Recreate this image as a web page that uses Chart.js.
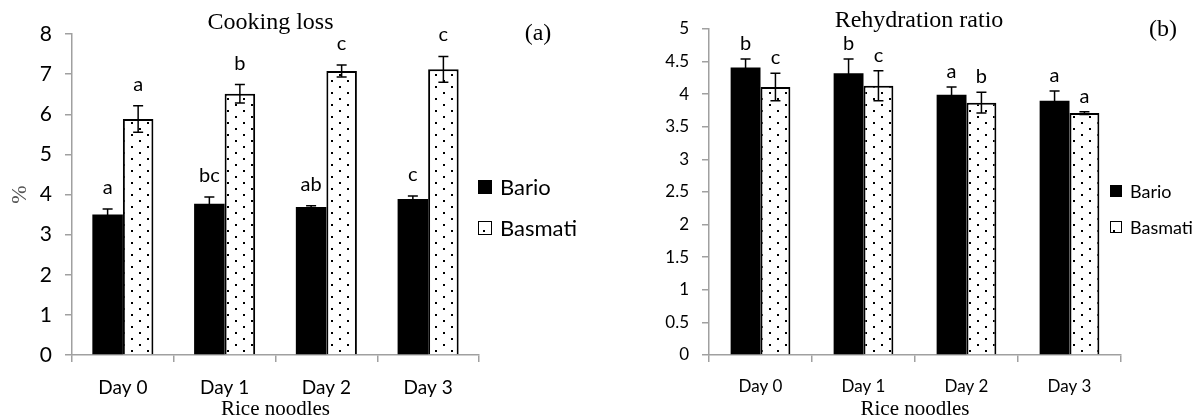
<!DOCTYPE html>
<html>
<head>
<meta charset="utf-8">
<script src="https://cdn.jsdelivr.net/npm/chart.js@4.4.1/dist/chart.umd.min.js"></script>
<style>
  html, body { margin: 0; padding: 0; background: #fff; }
  #wrap { width: 1196px; height: 416px; display: flex; }
  .cell { width: 598px; height: 416px; position: relative; }
</style>
</head>
<body>
<div id="wrap">
  <div class="cell"><canvas id="Chart_loss"></canvas></div>
  <div class="cell"><canvas id="Chart_rehyd"></canvas></div>
</div>
<script>
// data
const days = ['Day 0', 'Day 1', 'Day 2', 'Day 3'];
const seriesNames = ['Bario', 'Basmati'];

const lossBario = [3.50, 3.77, 3.69, 3.89];
const lossBarioErr = [0.14, 0.17, 0.03, 0.07];
const lossBasmati = [5.88, 6.51, 7.08, 7.12];
const lossBasmatiErr = [0.33, 0.23, 0.15, 0.32];
const lossBarioLetters = ['a', 'bc', 'ab', 'c'];
const lossBasmatiLetters = ['a', 'b', 'c', 'c'];

const rehydBario = [4.41, 4.32, 3.99, 3.90];
const rehydBarioErr = [0.13, 0.22, 0.12, 0.15];
const rehydBasmati = [4.11, 4.13, 3.87, 3.71];
const rehydBasmatiErr = [0.21, 0.23, 0.16, 0.02];
const rehydBarioLetters = ['b', 'b', 'a', 'a'];
const rehydBasmatiLetters = ['c', 'c', 'b', 'a'];

const SANS = 'Lato';
const SERIF = 'Liberation Serif';
const AXIS = '#a0a0a0';

// dotted fill like the Excel pattern
const makeDots = (ctx) => {
  const c = document.createElement('canvas');
  c.width = 16; c.height = 12;
  const p = c.getContext('2d');
  p.fillStyle = '#fff';
  p.fillRect(0, 0, 16, 12);
  p.fillStyle = '#000';
  p.fillRect(3, 2, 2, 2);
  p.fillRect(11, 8, 2, 2);
  return ctx.createPattern(c, 'repeat');
};

const decor = {
  id: 'decor',
  afterDatasetsDraw(chart, args, opts) {
    const ctx = chart.ctx;
    const y = chart.scales.y;
    ctx.save();
    chart.data.datasets.forEach((ds, i) => {
      const meta = chart.getDatasetMeta(i);
      meta.data.forEach((bar, j) => {
        const v = ds.data[j], e = opts.errors[i][j];
        const yt = y.getPixelForValue(v + e);
        const yb = y.getPixelForValue(v - e);
        ctx.strokeStyle = '#000';
        ctx.lineWidth = 1.5;
        ctx.beginPath();
        ctx.moveTo(bar.x, yt); ctx.lineTo(bar.x, yb);
        ctx.moveTo(bar.x - opts.cap, yt); ctx.lineTo(bar.x + opts.cap, yt);
        ctx.moveTo(bar.x - opts.cap, yb); ctx.lineTo(bar.x + opts.cap, yb);
        ctx.stroke();
        ctx.fillStyle = '#000';
        ctx.font = opts.letterFont;
        ctx.textAlign = 'center';
        ctx.textBaseline = 'alphabetic';
        ctx.fillText(opts.letters[i][j], bar.x, yt - opts.letterGap);
      });
    });
    ctx.restore();
  },
  afterDraw(chart, args, opts) {
    const ctx = chart.ctx;
    const a = chart.chartArea;
    ctx.save();
    // title + panel tag
    ctx.fillStyle = '#000';
    ctx.textBaseline = 'middle';
    ctx.textAlign = 'center';
    ctx.font = opts.titleFont;
    ctx.fillText(opts.title, (a.left + a.right) / 2 + opts.titleDx, opts.titleY);
    ctx.fillText(opts.tag, opts.tagX, opts.tagY);
    // legend
    const lg = opts.legend;
    ctx.font = lg.font;
    ctx.textAlign = 'left';
    chart.data.datasets.forEach((ds, i) => {
      const cy = lg.y[i];
      ctx.fillStyle = ds.backgroundColor;
      ctx.fillRect(lg.x, cy - lg.box / 2, lg.box, lg.box);
      if (ds.borderWidth) {
        ctx.strokeStyle = '#000';
        ctx.lineWidth = 1;
        ctx.strokeRect(lg.x + 0.5, cy - lg.box / 2 + 0.5, lg.box - 1, lg.box - 1);
      }
      ctx.fillStyle = '#000';
      ctx.fillText(ds.label, lg.x + lg.box + lg.gap, cy + 1);
    });
    ctx.restore();
  }
};

const buildChart = (id, cfg) => {
  const el = document.getElementById(id);
  const ctx = el.getContext('2d');
  const dots = makeDots(ctx);
  return new Chart(el, {
    type: 'bar',
    data: {
      labels: days,
      datasets: [
        { label: seriesNames[0], data: cfg.bario, backgroundColor: '#000', borderWidth: 0,
          categoryPercentage: cfg.catPct, barPercentage: 1 },
        { label: seriesNames[1], data: cfg.basmati, backgroundColor: dots, borderColor: '#000', borderWidth: 2,
          categoryPercentage: cfg.catPct, barPercentage: 1 }
      ]
    },
    plugins: [decor],
    options: {
      responsive: true,
      maintainAspectRatio: false,
      animation: false,
      layout: { padding: cfg.padding },
      plugins: {
        legend: { display: false },
        tooltip: { enabled: false },
        decor: {
          errors: [cfg.barioErr, cfg.basmatiErr],
          letters: [cfg.barioLetters, cfg.basmatiLetters],
          cap: 5,
          letterGap: cfg.letterGap,
          letterFont: cfg.letterFont,
          title: cfg.title,
          titleFont: `24px "${SERIF}"`,
          titleDx: cfg.titleDx,
          titleY: cfg.titleY,
          tag: cfg.tag,
          tagX: cfg.tagX,
          tagY: cfg.tagY,
          legend: cfg.legend
        }
      },
      scales: {
        x: {
          ticks: { color: '#000', font: { family: SANS, size: cfg.xFont }, padding: cfg.xPad },
          grid: { drawOnChartArea: false, tickLength: 7, color: AXIS, lineWidth: 1.5 },
          border: { color: AXIS, width: 1.5 },
          title: { display: true, text: 'Rice noodles', color: '#000',
                   font: { family: SERIF, size: 21, lineHeight: 1 }, padding: { top: 0, bottom: -4 } },
          afterFit: s => { s.height = 61; }
        },
        y: {
          min: 0, max: cfg.yMax,
          ticks: { stepSize: cfg.yStep, color: '#000', font: { family: SANS, size: cfg.yFont }, padding: 13,
                   callback: v => String(v) },
          grid: { drawOnChartArea: false, tickLength: 7, color: AXIS, lineWidth: 1.5 },
          border: { color: AXIS, width: 1.5 },
          title: cfg.yTitle,
          afterFit: s => { s.width = cfg.yWidth; }
        }
      }
    }
  });
};

buildChart('Chart_loss', {
  bario: lossBario, basmati: lossBasmati,
  barioErr: lossBarioErr, basmatiErr: lossBasmatiErr,
  barioLetters: lossBarioLetters, basmatiLetters: lossBasmatiLetters,
  catPct: 0.6, yMax: 8, yStep: 1, yFont: 21, xFont: 19, xPad: 14, yWidth: 72,
  padding: { top: 34, right: 119, left: 0, bottom: 0 },
  letterGap: 15, letterFont: `20px "${SANS}"`,
  title: 'Cooking loss', titleDx: -5, titleY: 23,
  tag: '(a)', tagX: 538, tagY: 34,
  legend: { x: 478, y: [187, 228], box: 14, gap: 8, font: `22px "${SANS}"` },
  yTitle: { display: true, text: '%', color: '#555',
            font: { family: SERIF, size: 22, lineHeight: 1 }, padding: { top: 9, bottom: 0 } }
});

buildChart('Chart_rehyd', {
  bario: rehydBario, basmati: rehydBasmati,
  barioErr: rehydBarioErr, basmatiErr: rehydBasmatiErr,
  barioLetters: rehydBarioLetters, basmatiLetters: rehydBasmatiLetters,
  catPct: 0.58, yMax: 5, yStep: 0.5, yFont: 17, xFont: 17, xPad: 14, yWidth: 111,
  padding: { top: 29, right: 75, left: 0, bottom: 0 },
  letterGap: 9, letterFont: `20px "${SANS}"`,
  title: 'Rehydration ratio', titleDx: 4, titleY: 21,
  tag: '(b)', tagX: 565, tagY: 30,
  legend: { x: 512, y: [191, 227], box: 12, gap: 8, font: `18px "${SANS}"` },
  yTitle: { display: false }
});
</script>
</body>
</html>
